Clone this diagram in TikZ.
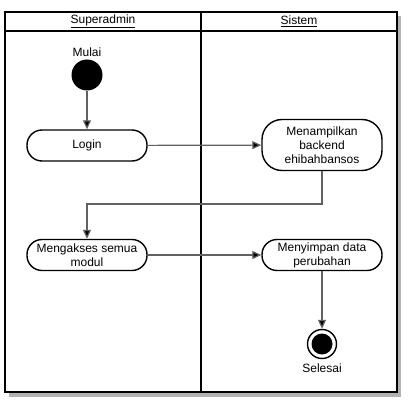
\documentclass[tikz,border=0pt]{standalone}
\usepackage{fontspec}
\setmainfont{Liberation Sans}
\usetikzlibrary{arrows.meta}
\begin{document}
\begin{tikzpicture}[x=1pt,y=-1pt,
  lane/.style={draw=black,line width=2pt},
  act/.style={draw=black,line width=1.4pt,fill=white,rounded corners=15pt,inner sep=0pt,minimum width=120pt,align=center,font=\fontsize{12}{14}\selectfont},
  flow/.style={draw=black!62,line width=1.2pt,-{Triangle[length=9pt,width=8pt,fill=black]}},
  lbl/.style={font=\fontsize{12}{14}\selectfont,inner sep=0pt}]
\useasboundingbox (0,0) rectangle (418,412);
% shadow
\fill[black!30] (9,16) rectangle (401,397);
% lanes
\fill[white] (5,12) rectangle (397,392);
\draw[lane] (5,12) rectangle (201,392);
\draw[lane] (201,12) rectangle (397,392);
\draw[lane] (5,31) -- (397,31);
\node[lbl] (h1) at (103,21.5) {\underline{Superadmin}};
\node[lbl] (h2) at (299,21.5) {\underline{Sistem}};
% start
\node[circle,fill=black,minimum size=31pt,inner sep=0pt] (start) at (87,75) {};
\node[lbl] (mulai) at (87,52) {Mulai};
% activities
\node[act,minimum height=31pt] (login) at (87,145.5) {Login};
\node[act,minimum height=51pt,rounded corners=20pt] (tampil) at (322,145) {Menampilkan\\backend\\ehibahbansos};
\node[act,minimum height=31pt] (akses) at (87,255) {Mengakses semua\\modul};
\node[act,minimum height=31pt] (simpan) at (322,255) {Menyimpan data\\perubahan};
% end
\node[circle,draw=black,line width=1.4pt,fill=white,minimum size=29pt,inner sep=0pt] (end) at (322,344) {};
\node[circle,fill=black,minimum size=21pt,inner sep=0pt] (endin) at (end) {};
\node[lbl] (selesai) at (322,368) {Selesai};
% flows
\draw[flow] (start) -- (login);
\draw[flow] (login) -- (tampil);
\draw[flow] (tampil.south) |- (322,204) -| (akses.north);
\draw[flow] (akses) -- (simpan);
\draw[flow] (simpan) -- (end);
\end{tikzpicture}
\end{document}
